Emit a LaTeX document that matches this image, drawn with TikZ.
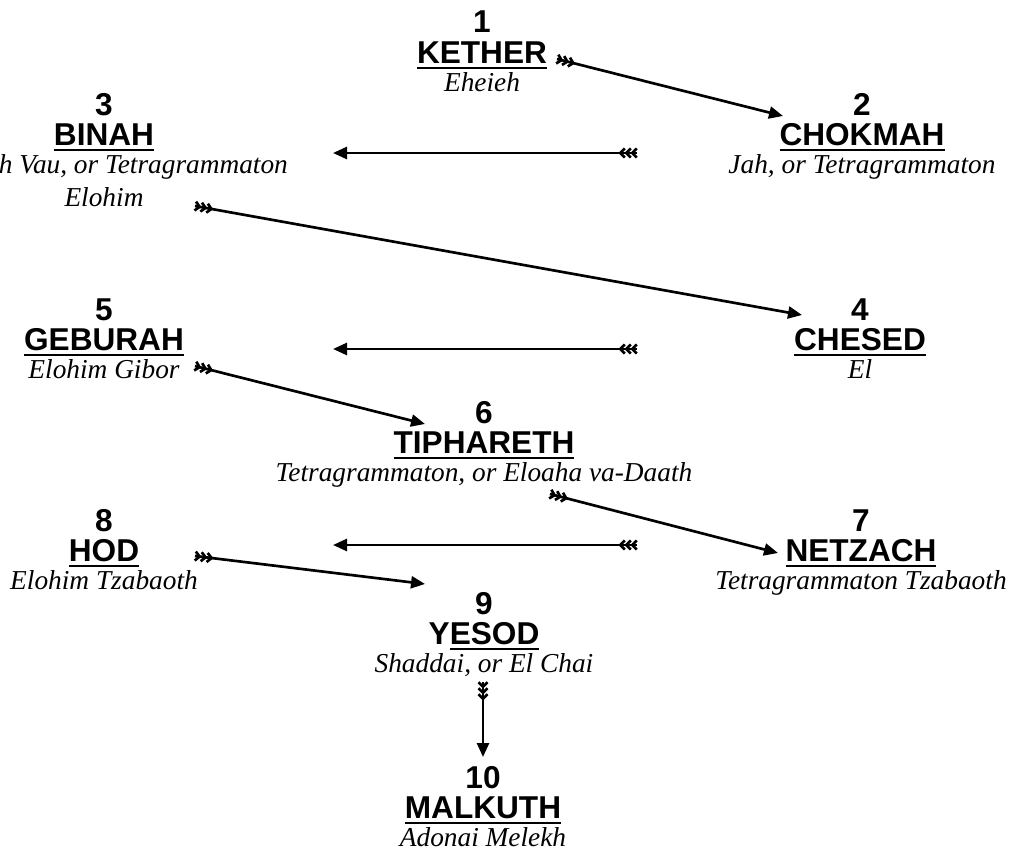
\documentclass[tikz,border=0pt]{standalone}
\usepackage{fontspec}
\usetikzlibrary{arrows.meta,decorations.markings}
\newfontfamily\sansfam{Liberation Sans}
\newfontfamily\seriffam{Liberation Serif}
\newcommand\nm{\sansfam\bfseries\fontsize{23.7pt}{23.7pt}\selectfont}
\newcommand\dn{\seriffam\itshape\fontsize{20.5pt}{20.5pt}\selectfont}
\newcommand\ulx[1]{\setbox0=\hbox{#1}\rlap{\rule[-4pt]{\wd0}{2pt}}\box0}
\newcommand\sephbox[1]{\vtop{\baselineskip=0pt\lineskip=0pt\lineskiplimit=-\maxdimen\halign{\hfil##\hfil\cr#1\crcr}}}
\newcommand\gapA{\noalign{\kern23.2pt}}
\newcommand\gapB{\noalign{\kern20.8pt}}
\newcommand\gapC{\noalign{\kern24.5pt}}
\begin{document}
\begin{tikzpicture}[x=0.75pt,y=-0.75pt,
  sephnode/.style={inner sep=0pt,outer sep=0pt,anchor=base},
  fletch/.style={postaction={decorate,decoration={markings,
    mark=at position 0pt with {
      \foreach \d in {3.5,8,12.5}{
        \draw[line width=2pt,-,line join=miter,line cap=butt]
          (\d pt-3.3pt,3.4pt) -- (\d pt,0pt) -- (\d pt-3.3pt,-3.4pt);}
    }}}},
  arr/.style={line width=2pt,-{Triangle[length=10.5pt,width=9pt]},fletch}]
\useasboundingbox (0,0) rectangle (1017,856);
% sephiroth
\node[sephnode] (kether) at (482,33) {\sephbox{\nm 1\cr\gapA\nm\ulx{KETHER}\cr\gapB\dn Eheieh}};
\node[sephnode] (chokmah) at (862,115) {\sephbox{\nm 2\cr\gapA\nm\ulx{CHOKMAH}\cr\gapB\dn Jah, or Tetragrammaton}};
\node[sephnode] (binah) at (104,115) {\sephbox{\nm 3\cr\gapA\nm\ulx{BINAH}\cr\gapB\dn Yod Heh Vau, or Tetragrammaton\cr\gapC\dn Elohim}};
\node[sephnode] (chesed) at (860,320) {\sephbox{\nm 4\cr\gapA\nm\ulx{CHESED}\cr\gapB\dn El}};
\node[sephnode] (geburah) at (104,320) {\sephbox{\nm 5\cr\gapA\nm\ulx{GEBURAH}\cr\gapB\dn Elohim Gibor}};
\node[sephnode] (tiphareth) at (484,423) {\sephbox{\nm 6\cr\gapA\nm\ulx{TIPHARETH}\cr\gapB\dn Tetragrammaton, or Eloaha va-Daath}};
\node[sephnode] (netzach) at (861,531) {\sephbox{\nm 7\cr\gapA\nm\ulx{NETZACH}\cr\gapB\dn Tetragrammaton Tzabaoth}};
\node[sephnode] (hod) at (104,531) {\sephbox{\nm 8\cr\gapA\nm\ulx{HOD}\cr\gapB\dn Elohim Tzabaoth}};
\node[sephnode] (yesod) at (484,614) {\sephbox{\nm 9\cr\gapA\nm Y\ulx{ESOD}\cr\gapB\dn Shaddai, or El Chai}};
\node[sephnode] (malkuth) at (483,788) {\sephbox{\nm 10\cr\gapA\nm\ulx{MALKUTH}\cr\gapB\dn Adonai Melekh}};
% arrow ends
\coordinate (t1) at (557,59);  \coordinate (h1) at (783,116);
\coordinate (t2) at (637,153); \coordinate (h2) at (333,153);
\coordinate (t3) at (195,206); \coordinate (h3) at (802,315);
\coordinate (t4) at (637,349); \coordinate (h4) at (333,349);
\coordinate (t5) at (195,366); \coordinate (h5) at (425,424);
\coordinate (t6) at (550,494); \coordinate (h6) at (778,553);
\coordinate (t7) at (637,545); \coordinate (h7) at (333,545);
\coordinate (t8) at (195,556); \coordinate (h8) at (425,584);
\coordinate (t9) at (483,682); \coordinate (h9) at (483,757);
\foreach \i in {1,...,9}{\draw[arr] (t\i) -- (h\i);}
\end{tikzpicture}
\end{document}
